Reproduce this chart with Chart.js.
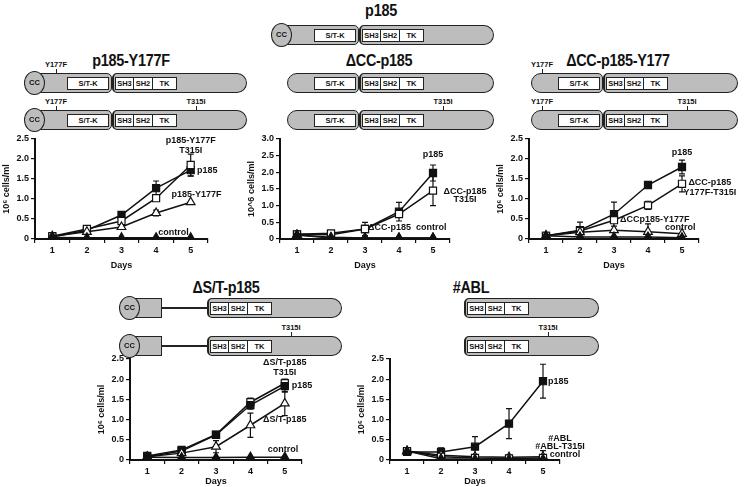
<!DOCTYPE html>
<html>
<head>
<meta charset="utf-8">
<script src="https://cdn.jsdelivr.net/npm/chart.js@4.4.1/dist/chart.umd.min.js"></script>
<style>
  body { margin: 0; width: 745px; height: 487px; background: #fff; position: relative; overflow: hidden;
         font-family: "Liberation Sans", Arial, sans-serif; font-weight: bold; color: #111; }
  .abs { position: absolute; }
  .title { position: absolute; font-size: 16px; font-weight: bold; white-space: nowrap; transform: translateX(-50%) scaleX(0.9); letter-spacing: -0.3px; }
  .seg { position: absolute; background: #bdbdbd; border: 1.6px solid #222; box-sizing: border-box; }
  .dom { position: absolute; background: #fff; border: 1.3px solid #222; box-sizing: border-box; font-size: 7.5px;
         text-align: center; line-height: 11px; height: 13px; }
  .oval { position: absolute; background: #bdbdbd; border: 1.6px solid #222; box-sizing: border-box; border-radius: 50%;
          font-size: 7.5px; text-align: center; }
  .mut { position: absolute; font-size: 7.5px; white-space: nowrap; transform: translateX(-50%); }
  .tick { position: absolute; width: 1.2px; height: 4px; background: #222; }
  .chart { position: absolute; }
</style>
</head>
<body>

<script>
// ---- data ----
const days = ['1', '2', '3', '4', '5'];

// panel 1: p185-Y177F
const p1_p185 = [0.05, 0.22, 0.6, 1.27, 1.72];
const p1_p185Err = [0, 0, 0, 0.18, 0.15];
const p1_y177fT315i = [0.07, 0.25, 0.45, 1.02, 1.85];
const p1_y177fT315iErr = [0, 0, 0, 0, 0.27];
const p1_y177f = [0.07, 0.18, 0.3, 0.65, 0.92];
const p1_y177fErr = [0, 0, 0, 0.07, 0];
const p1_control = [0.04, 0.03, 0.03, 0.03, 0.03];

// panel 2: dCC-p185
const p2_p185 = [0.14, 0.13, 0.3, 0.82, 1.98];
const p2_p185Err = [0, 0, 0.2, 0.28, 0.24];
const p2_dccT315i = [0.14, 0.17, 0.3, 0.75, 1.45];
const p2_dccT315iErr = [0, 0, 0, 0, 0.45];
const p2_dcc = [0.12, 0.05, 0.03, 0.03, 0.03];
const p2_control = [0.12, 0.03, 0.03, 0.03, 0.03];

// panel 3: dCC-p185-Y177
const p3_p185 = [0.08, 0.22, 0.62, 1.35, 1.8];
const p3_p185Err = [0, 0.2, 0.3, 0.08, 0.17];
const p3_y177fT315i = [0.08, 0.2, 0.47, 0.84, 1.38];
const p3_y177fT315iErr = [0, 0, 0, 0.1, 0.2];
const p3_y177f = [0.08, 0.17, 0.22, 0.18, 0.13];
const p3_y177fErr = [0, 0, 0, 0.2, 0];
const p3_control = [0.08, 0.05, 0.05, 0.05, 0.03];

// panel 4: dS/T-p185
const p4_dstT315i = [0.1, 0.25, 0.63, 1.43, 1.9];
const p4_dstT315iErr = [0, 0, 0, 0.1, 0.1];
const p4_p185 = [0.08, 0.22, 0.62, 1.36, 1.83];
const p4_p185Err = [0, 0, 0, 0.1, 0.15];
const p4_dst = [0.08, 0.17, 0.33, 0.86, 1.4];
const p4_dstErr = [0, 0, 0.15, 0.3, 0.3];
const p4_control = [0.07, 0.06, 0.06, 0.07, 0.07];

// panel 5: #ABL
const p5_p185 = [0.2, 0.2, 0.33, 0.9, 1.95];
const p5_p185Err = [0, 0.1, 0.25, 0.37, 0.42];
const p5_abl = [0.22, 0.12, 0.08, 0.07, 0.08];
const p5_ablErr = [0, 0, 0, 0.05, 0.15];
const p5_ablT315i = [0.22, 0.08, 0.05, 0.04, 0.05];
const p5_control = [0.22, 0.03, 0.02, 0.02, 0.02];

// ---- protein diagrams ----
function el(cls, css, text) {
  const d = document.createElement('div');
  d.className = cls;
  Object.assign(d.style, css);
  if (text) d.textContent = text;
  document.body.appendChild(d);
  return d;
}

function protein(x0, y, kind, marks) {
  const h = 20;
  if (kind === 'full' || kind === 'dst') {
    el('oval', { left: x0 + 'px', top: (y - 2) + 'px', width: '21px', height: '24px', lineHeight: '21px', zIndex: 2 }, 'CC');
  }
  if (kind === 'full') {
    el('seg', { left: (x0 + 10) + 'px', top: y + 'px', width: '78px', height: h + 'px', borderRadius: '0 5px 5px 0' });
  } else if (kind === 'dcc') {
    el('seg', { left: (x0 + 16) + 'px', top: y + 'px', width: '72px', height: h + 'px', borderRadius: '10px 5px 5px 10px' });
  } else if (kind === 'dst') {
    el('seg', { left: (x0 + 10) + 'px', top: y + 'px', width: '33px', height: h + 'px', borderRadius: '0' });
    el('abs', { left: (x0 + 43) + 'px', top: (y + 9) + 'px', width: '45px', height: '1.6px', background: '#222' });
  }
  if (kind === 'full' || kind === 'dcc') {
    el('dom', { left: (x0 + 43) + 'px', top: (y + 3.5) + 'px', width: '42px' }, 'S/T-K');
  }
  el('seg', { left: (x0 + 88) + 'px', top: y + 'px', width: '135px', height: h + 'px', borderRadius: '5px 10px 10px 5px', borderLeftWidth: '2.5px' });
  el('dom', { left: (x0 + 91) + 'px', top: (y + 3.5) + 'px', width: '19px' }, 'SH3');
  el('dom', { left: (x0 + 109) + 'px', top: (y + 3.5) + 'px', width: '20px' }, 'SH2');
  el('dom', { left: (x0 + 128) + 'px', top: (y + 3.5) + 'px', width: '25px' }, 'TK');
  (marks || []).forEach(m => {
    const mx = x0 + (m === 'T315I' ? 172 : (kind === 'dcc' ? 27 : 32));
    el('tick', { left: mx + 'px', top: (y - 4) + 'px' });
    el('mut', { left: mx + 'px', top: (y - 13) + 'px' }, m);
  });
}

el('title', { left: '381px', top: '2px' }, 'p185');
protein(271, 25, 'full');

el('title', { left: '131px', top: '52px' }, 'p185-Y177F');
protein(24, 73, 'full', ['Y177F']);
protein(24, 110, 'full', ['Y177F', 'T315I']);

el('title', { left: '379px', top: '52px' }, 'ΔCC-p185');
protein(271, 73, 'dcc');
protein(271, 110, 'dcc', ['T315I']);

el('title', { left: '618px', top: '52px' }, 'ΔCC-p185-Y177');
protein(515, 73, 'dcc', ['Y177F']);
protein(515, 110, 'dcc', ['Y177F', 'T315I']);

el('title', { left: '226px', top: '279px' }, 'ΔS/T-p185');
protein(119, 298, 'dst');
protein(119, 336, 'dst', ['T315I']);

el('title', { left: '471px', top: '279px' }, '#ABL');
protein(376, 298, 'abl');
protein(376, 336, 'abl', ['T315I']);

// ---- charts ----
const FONT = { family: '"Liberation Sans", Arial, sans-serif', weight: 'bold', size: 9 };

// error bars drawn through the chart's scales
const errorBars = {
  id: 'errorBars',
  beforeDatasetsDraw(chart) {
    const ctx = chart.ctx;
    const ys = chart.scales.y;
    ctx.save();
    ctx.strokeStyle = '#111';
    ctx.lineWidth = 1.2;
    chart.data.datasets.forEach((ds, di) => {
      if (!ds.err) return;
      const meta = chart.getDatasetMeta(di);
      ds.err.forEach((e, i) => {
        if (!e) return;
        const x = meta.data[i].x;
        const v = ds.data[i];
        const top = ys.getPixelForValue(v + e);
        const bot = ys.getPixelForValue(Math.max(v - e, 0));
        ctx.beginPath();
        ctx.moveTo(x, top); ctx.lineTo(x, bot);
        ctx.moveTo(x - 3, top); ctx.lineTo(x + 3, top);
        ctx.moveTo(x - 3, bot); ctx.lineTo(x + 3, bot);
        ctx.stroke();
      });
    });
    ctx.restore();
  }
};

// curve labels, placed in data units
const notes = {
  id: 'notes',
  afterDatasetsDraw(chart, args, opts) {
    const ctx = chart.ctx;
    ctx.save();
    ctx.font = 'bold 9px "Liberation Sans", Arial, sans-serif';
    ctx.fillStyle = '#111';
    ctx.textBaseline = 'middle';
    (opts.items || []).forEach(n => {
      ctx.textAlign = n.align || 'center';
      ctx.fillText(n.text, chart.scales.x.getPixelForValue(n.x), chart.scales.y.getPixelForValue(n.y));
    });
    ctx.restore();
  }
};

function series(data, err, style) {
  const filled = style[0] === 'f';
  return {
    data: data,
    err: err,
    borderColor: '#111',
    borderWidth: 1.5,
    pointStyle: style.slice(1),
    pointRadius: 5,
    pointBorderWidth: 1.2,
    pointBorderColor: '#111',
    pointBackgroundColor: filled ? '#111' : '#fff',
    tension: 0
  };
}

function panel(opts) {
  const wrap = document.createElement('div');
  wrap.className = 'chart';
  Object.assign(wrap.style, { left: opts.left + 'px', top: opts.top + 'px' });
  const cv = document.createElement('canvas');
  cv.width = opts.width; cv.height = opts.height;
  wrap.appendChild(cv);
  document.body.appendChild(wrap);

  new Chart(cv, {
    type: 'line',
    data: { labels: days, datasets: opts.datasets },
    options: {
      responsive: false,
      animation: false,
      layout: { padding: { top: opts.padTop, right: opts.padRight, left: 0, bottom: 0 } },
      plugins: { legend: { display: false }, tooltip: { enabled: false }, notes: { items: opts.notes } },
      scales: {
        x: {
          type: 'category',
          offset: true,
          grid: { offset: true, drawOnChartArea: false, tickLength: 4, color: '#111', lineWidth: 1.2 },
          border: { color: '#111', width: 2 },
          ticks: { color: '#111', font: FONT, padding: 2, maxRotation: 0 },
          title: { display: true, text: 'Days', color: '#111', font: FONT, padding: { top: 0, bottom: 0 } },
          afterFit(s) { s.height = opts.xHeight; }
        },
        y: {
          min: 0, max: opts.yMax,
          grid: { drawOnChartArea: false, tickLength: 4, color: '#111', lineWidth: 1.2 },
          border: { color: '#111', width: 2 },
          ticks: { stepSize: 0.5, color: '#111', font: FONT, padding: 2,
                   callback: v => v === 0 ? '0' : v.toFixed(1) },
          title: { display: true, text: opts.yTitle, color: '#111', font: FONT, padding: { top: 0, bottom: 0 } },
          afterFit(s) { s.width = 34; }
        }
      }
    },
    plugins: [errorBars, notes]
  });
}

const yTitle = '10\u2076 cells/ml';

panel({
  left: 1, top: 129, width: 240, height: 142, padTop: 10, padRight: 33, xHeight: 32, yMax: 2.5, yTitle: yTitle,
  datasets: [
    series(p1_control, null, 'ftriangle'),
    series(p1_y177f, p1_y177fErr, 'otriangle'),
    series(p1_y177fT315i, p1_y177fT315iErr, 'orect'),
    series(p1_p185, p1_p185Err, 'frect')
  ],
  notes: [
    { text: 'p185-Y177F', x: 4, y: 2.45 },
    { text: 'T315I', x: 4, y: 2.2 },
    { text: 'p185', x: 4.18, y: 1.72, align: 'left' },
    { text: 'p185-Y177F', x: 4.17, y: 1.1 },
    { text: 'control', x: 3.5, y: 0.17 }
  ]
});

panel({
  left: 246, top: 129, width: 245, height: 142, padTop: 10, padRight: 41, xHeight: 32, yMax: 3.0, yTitle: '10^6 cells/ml',
  datasets: [
    series(p2_control, null, 'ftriangle'),
    series(p2_dcc, null, 'otriangle'),
    series(p2_dccT315i, p2_dccT315iErr, 'orect'),
    series(p2_p185, p2_p185Err, 'frect')
  ],
  notes: [
    { text: 'p185', x: 4, y: 2.52 },
    { text: 'ΔCC-p185', x: 4.94, y: 1.41 },
    { text: 'T315I', x: 4.94, y: 1.17 },
    { text: 'ΔCC-p185', x: 2.72, y: 0.33 },
    { text: 'control', x: 3.95, y: 0.33 }
  ]
});

panel({
  left: 495, top: 129, width: 250, height: 142, padTop: 10, padRight: 46, xHeight: 32, yMax: 2.5, yTitle: yTitle,
  datasets: [
    series(p3_control, null, 'ftriangle'),
    series(p3_y177f, p3_y177fErr, 'otriangle'),
    series(p3_y177fT315i, p3_y177fT315iErr, 'orect'),
    series(p3_p185, p3_p185Err, 'frect')
  ],
  notes: [
    { text: 'p185', x: 4, y: 2.15 },
    { text: 'ΔCC-p185', x: 4.82, y: 1.4 },
    { text: 'Y177F-T315I', x: 4.82, y: 1.15 },
    { text: 'ΔCCp185-Y177F', x: 3.2, y: 0.48 },
    { text: 'control', x: 3.95, y: 0.28 }
  ]
});

panel({
  left: 96, top: 349, width: 250, height: 138, padTop: 10, padRight: 44, xHeight: 27, yMax: 2.5, yTitle: yTitle,
  datasets: [
    series(p4_control, null, 'ftriangle'),
    series(p4_dst, p4_dstErr, 'otriangle'),
    series(p4_p185, p4_p185Err, 'frect'),
    series(p4_dstT315i, p4_dstT315iErr, 'orect')
  ],
  notes: [
    { text: 'ΔS/T-p185', x: 4, y: 2.42 },
    { text: 'T315I', x: 4, y: 2.17 },
    { text: 'p185', x: 4.2, y: 1.85, align: 'left' },
    { text: 'ΔS/T-p185', x: 4, y: 1.0 },
    { text: 'control', x: 3.95, y: 0.27 }
  ]
});

panel({
  left: 356, top: 349, width: 250, height: 138, padTop: 10, padRight: 46, xHeight: 27, yMax: 2.5, yTitle: yTitle,
  datasets: [
    series(p5_control, null, 'ftriangle'),
    series(p5_ablT315i, null, 'orect'),
    series(p5_abl, p5_ablErr, 'otriangle'),
    series(p5_p185, p5_p185Err, 'frect')
  ],
  notes: [
    { text: 'p185', x: 4.15, y: 1.95, align: 'left' },
    { text: '#ABL', x: 4.5, y: 0.52 },
    { text: '#ABL-T315I', x: 4.5, y: 0.33 },
    { text: 'control', x: 4.2, y: 0.13, align: 'left' }
  ]
});
</script>
</body>
</html>
